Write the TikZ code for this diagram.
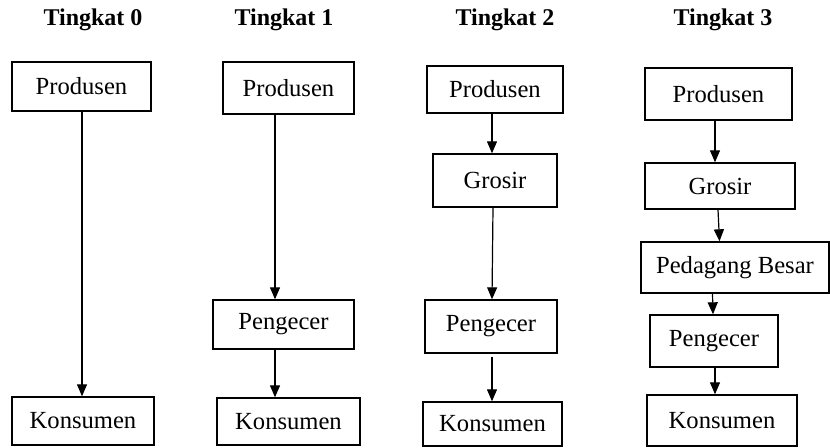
\documentclass[tikz,border=0pt]{standalone}
\usepackage{fontspec}
\setmainfont{Liberation Serif}
\usetikzlibrary{arrows.meta}
\begin{document}
\begin{tikzpicture}[x=0.5pt,y=-0.5pt,
  box/.style={draw,line width=0.7pt,inner sep=0pt,font=\fontsize{12.3}{14}\selectfont},
  ttl/.style={inner sep=0pt,font=\bfseries\fontsize{12}{14}\selectfont},
  arr/.style={line width=0.6pt,-{Triangle[length=6pt,width=5pt]}}]
\useasboundingbox (0,0) rectangle (830,447);
% titles
\node[ttl] (t0) at (93,20) {Tingkat 0};
\node[ttl] (t1) at (284,20) {Tingkat 1};
\node[ttl] (t2) at (505,20) {Tingkat 2};
\node[ttl] (t3) at (723,20) {Tingkat 3};
% column 0
\node[box,minimum width=69.5pt,minimum height=24.5pt] (p0) at (81.5,86.5) {Produsen};
\node[box,minimum width=71pt,minimum height=24pt] (k0) at (83,421) {Konsumen};
\draw[arr] ([xshift=0.25pt]p0.south) -- ([xshift=-0.5pt]k0.north);
% column 1
\node[box,minimum width=65.5pt,minimum height=26pt] (p1) at (288.5,88) {Produsen};
\node[box,minimum width=70.5pt,minimum height=24.5pt] (pe1) at (283.5,324.5) {Pengecer};
\node[box,minimum width=71.5pt,minimum height=23.5pt] (k1) at (288.5,421.5) {Konsumen};
\draw[arr] ([xshift=-6.75pt]p1.south) -- ([xshift=-4.25pt]pe1.north);
\draw[arr] ([xshift=-4.25pt]pe1.south) -- ([xshift=-6.75pt]k1.north);
% column 2
\node[box,minimum width=68pt,minimum height=23.5pt] (p2) at (495,89.5) {Produsen};
\node[box,minimum width=62pt,minimum height=26.5pt] (g2) at (495,180.5) {Grosir};
\node[box,minimum width=66pt,minimum height=26.5pt] (pe2) at (491,326.5) {Pengecer};
\node[box,minimum width=69.5pt,minimum height=22pt] (k2) at (492.5,424) {Konsumen};
\draw[arr] ([xshift=-1.5pt]p2.south) -- ([xshift=-1.5pt]g2.north);
\draw[arr] ([xshift=-1pt]g2.south) -- ([xshift=0.5pt]pe2.north);
\draw[arr] ([xshift=0.5pt,yshift=-1.5pt]pe2.south) -- ([xshift=-0.25pt]k2.north);
% column 3
\node[box,minimum width=73.5pt,minimum height=26pt] (p3) at (718.5,94) {Produsen};
\node[box,minimum width=75pt,minimum height=23pt] (g3) at (720,186) {Grosir};
\node[box,minimum width=94pt,minimum height=25.5pt] (pb3) at (735,267.5) {Pedagang Besar};
\node[box,minimum width=64pt,minimum height=26pt] (pe3) at (714,341) {Pengecer};
\node[box,minimum width=75pt,minimum height=25.5pt] (k3) at (722,420.5) {Konsumen};
\draw[arr] ([xshift=-1.75pt]p3.south) -- ([xshift=-2.5pt]g3.north);
\draw[arr] ([xshift=-1pt]g3.south) -- ([xshift=-7.75pt]pb3.north);
\draw[arr] ([xshift=-11.25pt]pb3.south) -- ([xshift=-0.5pt]pe3.north);
\draw[arr] ([xshift=0.5pt]pe3.south) -- ([xshift=-3.5pt]k3.north);
\end{tikzpicture}
\end{document}
